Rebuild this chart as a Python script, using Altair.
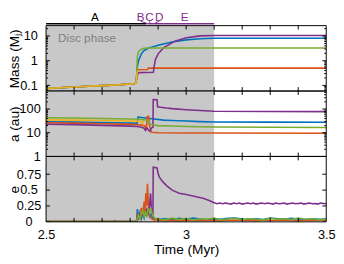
import altair as alt
import pandas as pd

W = 287
H = 67
TOPH = 12
FONT = "Liberation Sans"

BLUE, ORANGE, YELLOW, PURPLE, GREEN = "#0072BD", "#D95319", "#EDB120", "#7E2F8E", "#77AC30"
SHADE = "#c8c8c8"

x_domain = [2.5, 3.5]
disc_start = [2.5]
disc_end = [3.1]

# ---------------- phase bar ----------------
phase_names = ["A", "B", "C", "D", "E"]
phase_label_t = [2.674, 2.838, 2.869, 2.904, 2.995]
phase_label_color = ["black", PURPLE, PURPLE, PURPLE, PURPLE]
seg_start = [2.5, 2.862]
seg_end = [2.859, 3.1]
seg_color = ["black", PURPLE]
conn_from = [2.838, 2.869, 2.904]
conn_to = [2.863, 2.872, 2.885]

# ---------------- mass (M_J) ----------------
mass_pre_t = [2.5, 2.508, 2.512, 2.55, 2.6, 2.65, 2.7, 2.75, 2.8, 2.815, 2.821]
mass_pre = [0.068, 0.069, 0.077, 0.08, 0.086, 0.092, 0.098, 0.104, 0.113, 0.12, 0.128]

blue_m_t = [2.823, 2.826, 2.83, 2.84, 2.85, 2.87, 2.9, 2.95, 3.0, 3.05, 3.1, 3.5]
blue_m = [0.2, 0.6, 1.0, 1.9, 2.6, 3.4, 4.2, 5.8, 7.0, 7.8, 8.2, 8.2]
orange_m_t = [2.823, 2.826, 2.862, 2.865, 3.5]
orange_m = [0.2, 0.43, 0.44, 0.5, 0.5]
yellow_m_t = [2.823, 2.826, 2.83]
yellow_m = [0.2, 0.35, 0.4]
purple_m_t = [2.823, 2.826, 2.83, 2.883, 2.886, 2.89, 2.9, 2.92, 2.96, 3.0, 3.05, 3.1, 3.5]
purple_m = [0.2, 0.26, 0.33, 0.34, 0.6, 1.1, 1.9, 3.4, 6.2, 8.6, 10.2, 10.6, 10.6]
green_m_t = [2.823, 2.826, 2.83, 2.835, 2.845, 2.86, 3.5]
green_m = [0.2, 1.5, 2.3, 2.7, 3.1, 3.3, 3.3]

# ---------------- semi-major axis (au) ----------------
blue_a_t = [2.5, 2.6, 2.7, 2.8, 2.825, 2.828, 2.84, 2.87, 2.92, 2.95, 3.0, 3.05, 3.1, 3.3, 3.5]
blue_a = [29, 28, 27, 25.5, 25, 46, 44, 40, 34, 33, 31, 29.5, 28.5, 28, 27.5]
orange_a_t = [2.5, 2.6, 2.7, 2.8, 2.825, 2.84, 2.852, 2.856, 2.859, 2.861, 2.866, 2.868, 2.872, 2.876, 2.9, 3.0, 3.1, 3.5]
orange_a = [26.5, 25.5, 24, 22.5, 22, 21, 20, 15, 20, 48, 50, 24, 14, 10.5, 10, 9.8, 9.7, 9.6]
yellow_a_t = [2.5, 2.6, 2.7, 2.8, 2.825, 2.835, 2.84, 2.845, 2.848, 2.852]
yellow_a = [35, 34, 33, 31.5, 31, 30, 28, 25, 36, 35]
purple_a_t = [2.5, 2.6, 2.7, 2.8, 2.825, 2.84, 2.85, 2.855, 2.86, 2.865, 2.87, 2.875, 2.88,
              2.8815, 2.8825, 2.896, 2.898, 2.91, 2.93, 2.95, 3.0, 3.05, 3.1, 3.3, 3.5]
purple_a = [23, 22, 20.5, 19, 18.5, 17, 15.5, 12.5, 16, 13, 11.5, 15, 17,
            17, 250, 245, 125, 118, 110, 104, 94, 86, 80, 79, 78]
green_a_t = [2.5, 2.6, 2.7, 2.8, 2.825, 2.85, 2.86, 2.865, 2.87, 2.875, 2.88, 2.9, 2.95, 3.0, 3.05, 3.1, 3.3, 3.5]
green_a = [43, 41.5, 40, 38, 37, 35, 34, 30, 25, 22, 21, 20, 19.2, 18.5, 18, 17.5, 17, 16.5]

# ---------------- eccentricity ----------------
e_pre_t = [2.5, 2.6, 2.7, 2.8, 2.821]
e_pre = [0.004, 0.004, 0.005, 0.005, 0.005]
purple_e_pre_t = [2.5, 2.6, 2.7, 2.74, 2.745, 2.75, 2.8, 2.821]
purple_e_pre = [0.004, 0.004, 0.005, 0.005, 0.02, 0.005, 0.005, 0.005]

e_post_t = [2.9, 2.925, 2.95, 2.975, 3.0, 3.025, 3.05, 3.075, 3.1, 3.125, 3.15, 3.175, 3.2,
            3.225, 3.25, 3.275, 3.3, 3.325, 3.35, 3.375, 3.4, 3.425, 3.45, 3.475, 3.5]
blue_e_post = [0.04, 0.05, 0.035, 0.055, 0.04, 0.06, 0.045, 0.035, 0.05, 0.04, 0.055, 0.06, 0.045,
               0.04, 0.05, 0.035, 0.06, 0.05, 0.04, 0.055, 0.045, 0.035, 0.05, 0.04, 0.045]
orange_e_post = [0.03, 0.02, 0.025, 0.015, 0.03, 0.02, 0.025, 0.03, 0.02, 0.015, 0.025, 0.03, 0.02,
                 0.025, 0.015, 0.03, 0.02, 0.025, 0.03, 0.02, 0.015, 0.025, 0.02, 0.03, 0.02]
green_e_post = [0.05, 0.03, 0.06, 0.035, 0.055, 0.03, 0.05, 0.04, 0.06, 0.03, 0.045, 0.055, 0.035,
                0.05, 0.04, 0.03, 0.055, 0.04, 0.05, 0.035, 0.06, 0.04, 0.05, 0.03, 0.045]

blue_e_t = [2.823, 2.826, 2.83, 2.835, 2.84, 2.845, 2.85, 2.855, 2.86, 2.865, 2.87, 2.875, 2.88, 2.89]
blue_e = [0.01, 0.2, 0.08, 0.15, 0.05, 0.12, 0.06, 0.18, 0.1, 0.15, 0.08, 0.12, 0.06, 0.05]
orange_e_t = [2.823, 2.828, 2.835, 2.84, 2.845, 2.85, 2.853, 2.856, 2.859, 2.862, 2.865, 2.868, 2.872, 2.876, 2.885]
orange_e = [0.01, 0.12, 0.05, 0.22, 0.1, 0.32, 0.15, 0.45, 0.25, 0.6, 0.3, 0.12, 0.08, 0.05, 0.03]
yellow_e_t = [2.823, 2.83, 2.835, 2.84, 2.845, 2.85, 2.852]
yellow_e = [0.01, 0.08, 0.05, 0.14, 0.1, 0.12, 0.1]
purple_e_t = [2.823, 2.83, 2.84, 2.85, 2.86, 2.865, 2.87, 2.873, 2.876, 2.88, 2.8815, 2.8825, 2.896,
              2.9, 2.905, 2.915, 2.93, 2.95, 2.975, 3.0, 3.02, 3.04, 3.06, 3.08, 3.09,
              3.1, 3.11, 3.12, 3.13, 3.14, 3.15, 3.16, 3.17, 3.18, 3.19, 3.2, 3.21, 3.22, 3.23,
              3.24, 3.25, 3.26, 3.27, 3.28, 3.29, 3.3, 3.31, 3.32, 3.33, 3.34, 3.35, 3.36, 3.37,
              3.38, 3.39, 3.4, 3.41, 3.42, 3.43, 3.44, 3.45, 3.46, 3.47, 3.48, 3.49, 3.5]
purple_e = [0.01, 0.05, 0.12, 0.08, 0.2, 0.12, 0.3, 0.45, 0.2, 0.12, 0.12, 0.86, 0.85,
            0.76, 0.7, 0.64, 0.57, 0.5, 0.45, 0.43, 0.41, 0.39, 0.37, 0.34, 0.32,
            0.30, 0.285, 0.295, 0.285, 0.295, 0.29, 0.28, 0.295, 0.285, 0.295, 0.28, 0.29, 0.295, 0.285,
            0.295, 0.28, 0.29, 0.295, 0.285, 0.295, 0.29, 0.28, 0.295, 0.285, 0.29, 0.295, 0.28, 0.29,
            0.295, 0.285, 0.29, 0.295, 0.28, 0.29, 0.295, 0.285, 0.29, 0.28, 0.295, 0.29, 0.285]
green_e_t = [2.823, 2.83, 2.835, 2.84, 2.845, 2.85, 2.855, 2.86, 2.865, 2.87, 2.875, 2.88, 2.89]
green_e = [0.01, 0.1, 0.05, 0.12, 0.18, 0.08, 0.15, 0.1, 0.22, 0.15, 0.2, 0.1, 0.05]

# ---------------- ticks ----------------
x_ticks = [2.6, 2.7, 2.8, 2.9, 3.0, 3.1, 3.2, 3.3, 3.4]
x_labels = [2.5, 3.0, 3.5]
mass_domain = [0.059, 26.5]
mass_major = [0.1, 1, 10]
mass_minor = [0.06, 0.07, 0.08, 0.09, 0.2, 0.3, 0.4, 0.5, 0.6, 0.7, 0.8, 0.9,
              2, 3, 4, 5, 6, 7, 8, 9, 20]
a_domain = [1, 575]
a_major = [1, 10, 100]
a_minor = [2, 3, 4, 5, 6, 7, 8, 9, 20, 30, 40, 50, 60, 70, 80, 90, 200, 300, 400, 500]
e_domain = [0, 1.03]
e_major = [0, 0.25, 0.5, 0.75]
e_minor = []


def df(t, v):
    return pd.DataFrame({"t": t, "v": v})


xs = alt.Scale(domain=x_domain, nice=False, zero=False)


def panel(series, ytype, ydomain, ymajor, yminor, ytitle, label_pad, label_align, yfmt, bottom, extras=()):
    if ytype == "log":
        ys = alt.Scale(type="log", domain=ydomain, nice=False)
    else:
        ys = alt.Scale(domain=ydomain, nice=False, zero=False)
    if bottom:
        xaxis = alt.Axis(values=x_labels, format="~g", ticks=False, domain=False, grid=False,
                         labelFlush=False, labelPadding=7, labelFontSize=13, title="Time (Myr)",
                         titleFontSize=14, titleFontWeight="normal", titlePadding=1, labelColor="black",
                         titleColor="black")
    else:
        xaxis = None
    yaxis = alt.Axis(values=ymajor, format=yfmt, ticks=False, domain=False, grid=False,
                     labelPadding=label_pad, labelAlign=label_align, labelFontSize=13, title=ytitle,
                     titleFontSize=14, titleFontWeight="normal", minExtent=21, maxExtent=21,
                     titlePadding=4, labelColor="black", titleColor="black", labelOverlap=False)
    X = alt.X("t:Q", scale=xs, axis=xaxis)
    Y = alt.Y("v:Q", scale=ys, axis=yaxis)

    layers = []
    shade = alt.Chart(pd.DataFrame({"t": disc_start, "t2": disc_end})).mark_rect(color=SHADE).encode(
        x=X, x2="t2:Q", y=alt.value(0), y2=alt.value(H))
    layers.append(shade)
    for txt in extras:
        layers.append(txt(X))
    for (t, v, col) in series:
        layers.append(alt.Chart(df(t, v)).mark_line(color=col, strokeWidth=1.6, clip=True)
                      .encode(x=X, y=Y))
    # frame
    layers.append(alt.Chart(pd.DataFrame({"k": [0]})).mark_rect(fill=None, stroke="black", strokeWidth=1)
                  .encode(x=alt.value(0), x2=alt.value(W), y=alt.value(0), y2=alt.value(H)))
    xt = pd.DataFrame({"t": x_ticks})
    layers.append(alt.Chart(xt).mark_rule(color="black").encode(x=X, y=alt.value(0), y2=alt.value(4)))
    layers.append(alt.Chart(xt).mark_rule(color="black").encode(x=X, y=alt.value(H - 4), y2=alt.value(H)))
    ymaj = pd.DataFrame({"v": ymajor})
    layers.append(alt.Chart(ymaj).mark_rule(color="black", clip=True).encode(y=Y, x=alt.value(0), x2=alt.value(4)))
    layers.append(alt.Chart(ymaj).mark_rule(color="black", clip=True).encode(y=Y, x=alt.value(W - 4), x2=alt.value(W)))
    if yminor:
        ymin = pd.DataFrame({"v": yminor})
        layers.append(alt.Chart(ymin).mark_rule(color="black", clip=True).encode(y=Y, x=alt.value(0), x2=alt.value(2)))
        layers.append(alt.Chart(ymin).mark_rule(color="black", clip=True).encode(y=Y, x=alt.value(W - 2), x2=alt.value(W)))
    return alt.layer(*layers).properties(width=W, height=H)


def disc_label(X):
    return alt.Chart(pd.DataFrame({"t": [2.543], "label": ["Disc phase"]})).mark_text(
        align="left", baseline="middle", fontSize=12, color="#7f7f7f", font=FONT).encode(
        x=X, y=alt.value(13), text="label:N")


mass_series = [
    (mass_pre_t + blue_m_t, mass_pre + blue_m, BLUE),
    (mass_pre_t + orange_m_t, mass_pre + orange_m, ORANGE),
    (mass_pre_t + purple_m_t, mass_pre + purple_m, PURPLE),
    (mass_pre_t + green_m_t, mass_pre + green_m, GREEN),
    (mass_pre_t + yellow_m_t, mass_pre + yellow_m, YELLOW),
]
a_series = [
    (blue_a_t, blue_a, BLUE),
    (orange_a_t, orange_a, ORANGE),
    (yellow_a_t, yellow_a, YELLOW),
    (purple_a_t, purple_a, PURPLE),
    (green_a_t, green_a, GREEN),
]
e_series = [
    (e_pre_t + blue_e_t + e_post_t, e_pre + blue_e + blue_e_post, BLUE),
    (e_pre_t + orange_e_t + e_post_t, e_pre + orange_e + orange_e_post, ORANGE),
    (e_pre_t + yellow_e_t, e_pre + yellow_e, YELLOW),
    (purple_e_pre_t + purple_e_t, purple_e_pre + purple_e, PURPLE),
    (e_pre_t + green_e_t + e_post_t, e_pre + green_e + green_e_post, GREEN),
]

p1 = panel(mass_series, "log", mass_domain, mass_major, mass_minor, "Mass (Mⱼ)", 9, "right", "~g", False,
           extras=[disc_label])
p2 = panel(a_series, "log", a_domain, a_major, a_minor, "a (au)", 6, "right", "~g", False)
p3 = panel(e_series, "linear", e_domain, e_major, e_minor, "e", 18, "center", ".2~f", True)

# top phase bar
Xb = alt.X("t:Q", scale=xs, axis=None)
segs = pd.DataFrame({"t": seg_start, "t2": seg_end, "c": seg_color})
labs = pd.DataFrame({"t": phase_label_t, "label": phase_names, "c": phase_label_color})
conns = pd.DataFrame({"t": conn_from, "t2": conn_to})
top = alt.layer(
    alt.Chart(segs).mark_rule(strokeWidth=1.6).encode(
        x=Xb, x2="t2:Q", y=alt.value(10), color=alt.Color("c:N", scale=None)),
    alt.Chart(conns).mark_rule(strokeWidth=1, color=PURPLE).encode(
        x=Xb, x2="t2:Q", y=alt.value(7.5), y2=alt.value(10)),
    alt.Chart(labs).mark_text(fontSize=12, baseline="top", font=FONT).encode(
        x=Xb, y=alt.value(-2), text="label:N", color=alt.Color("c:N", scale=None)),
).properties(width=W, height=TOPH)

chart = alt.vconcat(top, p1, p2, p3, spacing=0, bounds="flush").properties(
    padding={"left": 0, "top": 0, "right": 0, "bottom": 0}
).configure_view(strokeWidth=0).configure_axis(labelFont=FONT, titleFont=FONT).configure_text(font=FONT)

chart.save("out.html", embed_options={"renderer": "svg", "actions": False})
